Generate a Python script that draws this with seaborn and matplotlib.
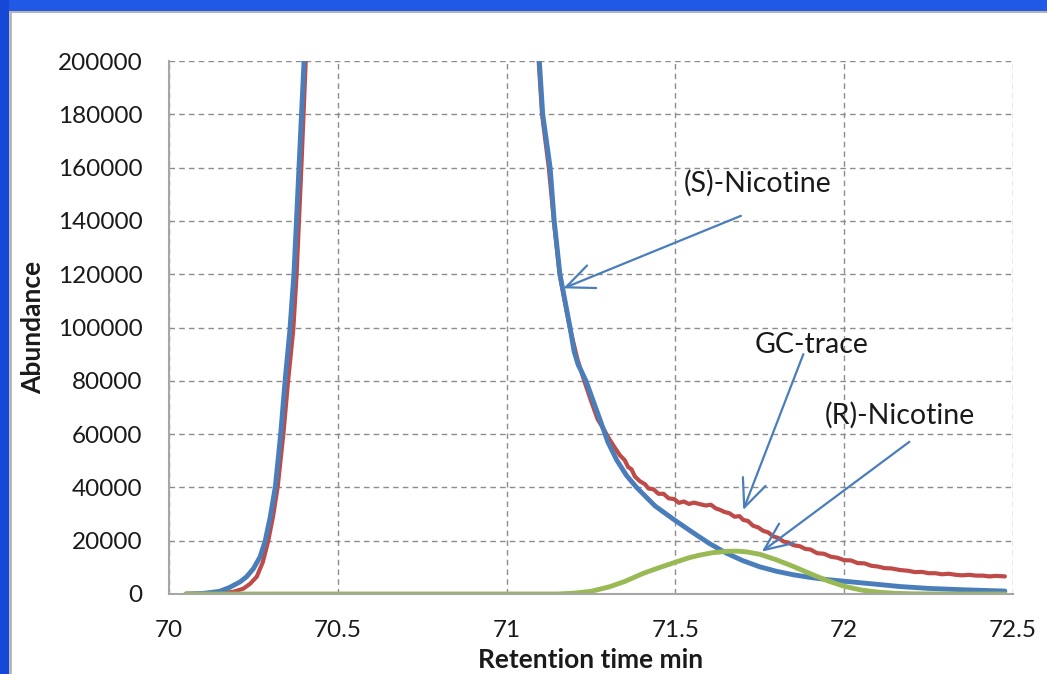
import numpy as np
import pandas as pd
import matplotlib
matplotlib.use("Agg")
import matplotlib.pyplot as plt
import seaborn as sns
from matplotlib.patches import Rectangle

# (S)-Nicotine fitted peak (values above 200000 are off the chart)
s_time = [70.05, 70.10, 70.15, 70.18, 70.21, 70.23, 70.25, 70.27, 70.285, 70.30,
          70.315, 70.331, 70.344, 70.358, 70.370, 70.385, 70.400, 70.42, 70.55, 70.75,
          70.95, 71.07, 71.097, 71.107, 71.129, 71.141, 71.158, 71.173, 71.188, 71.20,
          71.212, 71.222, 71.235, 71.255, 71.277, 71.30, 71.326, 71.355, 71.385, 71.44,
          71.497, 71.55, 71.60, 71.65, 71.70, 71.75, 71.80, 71.85, 71.90, 71.95,
          72.0, 72.1, 72.165, 72.25, 72.35, 72.476]
s_abund = [0, 200, 1000, 2500, 4500, 6500, 9500, 14000, 20000, 29000,
           40300, 60300, 80300, 99000, 120000, 160000, 200000, 260000, 900000, 2000000,
           1100000, 260000, 200000, 180000, 160000, 140000, 120000, 110000, 100000, 91000,
           86000, 83500, 80000, 73000, 65300, 57000, 50300, 44500, 40000, 33000,
           27800, 23200, 19000, 15400, 12500, 10200, 8500, 7200, 6200, 5400,
           4800, 3600, 2800, 2100, 1600, 1100]

# GC trace (measured)
gc_time = [70.05, 70.10, 70.15, 70.19, 70.22, 70.24, 70.26, 70.278, 70.294, 70.308,
           70.322, 70.339, 70.353, 70.368, 70.378, 70.392, 70.405, 70.425, 70.55, 70.75,
           70.95, 71.07, 71.095, 71.105, 71.125, 71.14, 71.157, 71.172, 71.187, 71.21,
           71.23, 71.25, 71.27, 71.287, 71.30, 71.31, 71.32, 71.336, 71.35, 71.36,
           71.37, 71.38, 71.395, 71.41, 71.42, 71.435, 71.45, 71.465, 71.48, 71.497,
           71.51, 71.525, 71.54, 71.555, 71.573, 71.59, 71.605, 71.62, 71.632, 71.645,
           71.66, 71.675, 71.69, 71.701, 71.715, 71.73, 71.745, 71.76, 71.775, 71.79,
           71.805, 71.82, 71.835, 71.85, 71.869, 71.885, 71.90, 71.92, 71.94, 71.96,
           71.98, 72.0, 72.02, 72.04, 72.06, 72.08, 72.10, 72.12, 72.14, 72.165,
           72.19, 72.21, 72.23, 72.25, 72.27, 72.29, 72.31, 72.33, 72.35, 72.37,
           72.39, 72.41, 72.43, 72.45, 72.476]
gc_abund = [0, 100, 300, 800, 2000, 3800, 6500, 12000, 20000, 29000,
            40300, 60300, 80300, 99000, 120000, 160000, 200000, 260000, 900000, 2000000,
            1100000, 260000, 200000, 180000, 160000, 140000, 120000, 110000, 100000, 88000,
            80000, 72500, 65500, 62000, 59000, 57000, 55000, 52000, 50200, 47600,
            46800, 44100, 42300, 41200, 39600, 39300, 37600, 37600, 35900, 35600,
            34200, 34700, 33800, 34300, 33700, 33200, 33500, 32100, 31600, 30800,
            30300, 29000, 29200, 27800, 27400, 25600, 25000, 23700, 23100, 21600,
            21000, 19700, 19300, 18300, 17900, 16900, 16700, 15300, 15100, 14000,
            13600, 12700, 12600, 11600, 11500, 10600, 10300, 9700, 9600, 9000,
            8700, 8200, 8300, 7800, 7800, 7400, 7600, 7200, 7000, 7200,
            6900, 6900, 6600, 6800, 6600]

# (R)-Nicotine fitted peak
r_time = [70.05, 71.15, 71.20, 71.25, 71.306, 71.35, 71.405, 71.45, 71.497, 71.54,
          71.573, 71.61, 71.652, 71.68, 71.711, 71.75, 71.80, 71.85, 71.90, 71.95,
          72.0, 72.05, 72.10, 72.15, 72.20, 72.30, 72.476]
r_abund = [0, 0, 300, 1000, 2750, 4700, 7750, 9800, 11800, 13600,
           14600, 15500, 16000, 16100, 15800, 14900, 12800, 10300, 7600, 5000,
           2900, 1500, 700, 250, 80, 0, 0]

x_ticks = [70, 70.5, 71, 71.5, 72, 72.5]
x_tick_labels = ["70", "70.5", "71", "71.5", "72", "72.5"]
y_ticks = list(range(0, 200001, 20000))

blue = "#4a7ebb"
red = "#be4b48"
green = "#98b954"
ink = "#1a1a1a"

sns.set_style("white")
plt.rcParams["font.family"] = ["Lato", "DejaVu Sans"]

fig = plt.figure(figsize=(10.47, 6.74), dpi=100)
fig.patch.set_facecolor("white")

# slide frame
fig.patches.append(Rectangle((0, 1 - 11 / 674), 1, 11 / 674, transform=fig.transFigure,
                             facecolor="#2258e6", edgecolor="none", zorder=0))
fig.patches.append(Rectangle((0, 0), 9 / 1047, 1, transform=fig.transFigure,
                             facecolor="#1648d8", edgecolor="none", zorder=0))
fig.add_artist(plt.Line2D([10 / 1047, 10 / 1047], [0, 1 - 12 / 674], transform=fig.transFigure,
                          color="#b4b4b4", lw=2))
fig.add_artist(plt.Line2D([10 / 1047, 1], [1 - 12 / 674, 1 - 12 / 674], transform=fig.transFigure,
                          color="#b4b4b4", lw=1.5))

ax = fig.add_axes([169 / 1047, 1 - 594 / 674, 844 / 1047, 533 / 674])

gc_df = pd.DataFrame({"time": gc_time, "abundance": gc_abund})
s_df = pd.DataFrame({"time": s_time, "abundance": s_abund})
r_df = pd.DataFrame({"time": r_time, "abundance": r_abund})

sns.lineplot(data=gc_df, x="time", y="abundance", ax=ax, color=red, lw=3, estimator=None)
sns.lineplot(data=s_df, x="time", y="abundance", ax=ax, color=blue, lw=3.5, estimator=None)
sns.lineplot(data=r_df, x="time", y="abundance", ax=ax, color=green, lw=3.5, estimator=None)

ax.set_xlim(70, 72.5)
ax.set_ylim(0, 200000)
ax.set_xticks(x_ticks)
ax.set_xticklabels(x_tick_labels)
ax.set_yticks(y_ticks)
ax.set_yticklabels([str(v) for v in y_ticks])

ax.grid(True, color="#8c8c8c", linestyle=(0, (4, 3)), lw=1)
for side in ["top", "right"]:
    ax.spines[side].set_visible(False)
for side in ["left", "bottom"]:
    ax.spines[side].set_color("#a6a6a6")
    ax.spines[side].set_linewidth(1.5)
ax.tick_params(axis="both", direction="out", length=7, width=1.2, color="#a6a6a6",
               labelsize=17.5, labelcolor=ink)
ax.tick_params(axis="y", pad=12)
ax.tick_params(axis="x", pad=12)

ax.set_xlabel("Retention time min", fontsize=19, fontweight="bold", color=ink, va="center")
ax.set_ylabel("Abundance", fontsize=19, fontweight="bold", color=ink, va="center")
ax.xaxis.set_label_coords(0.5, -0.124)
ax.yaxis.set_label_coords(-0.161, 0.5)

arrow_kw = dict(arrowstyle="->,head_length=0.8,head_width=0.35", color=blue, lw=1.6,
                mutation_scale=25, shrinkA=0, shrinkB=0)
ax.text(71.745, 154200, "(S)-Nicotine", fontsize=20.5, ha="center", va="center", color=ink)
ax.annotate("", xy=(71.168, 114700), xytext=(71.694, 141900), arrowprops=arrow_kw)
ax.text(71.902, 93600, "GC-trace", fontsize=20.5, ha="center", va="center", color=ink)
ax.annotate("", xy=(71.701, 31500), xytext=(71.879, 90000), arrowprops=arrow_kw)
ax.text(72.165, 67200, "(R)-Nicotine", fontsize=20.5, ha="center", va="center", color=ink)
ax.annotate("", xy=(71.756, 15900), xytext=(72.193, 57100), arrowprops=arrow_kw)

fig.savefig("out.png", dpi=100)
